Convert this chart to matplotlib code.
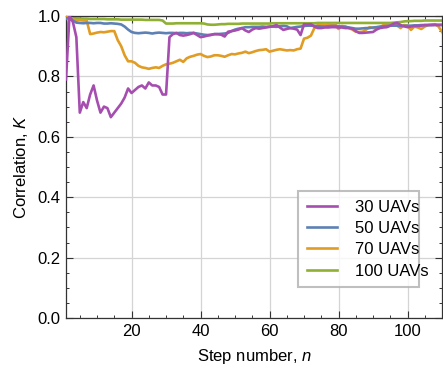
import numpy as np
import matplotlib
matplotlib.use("Agg")
import matplotlib.pyplot as plt
from matplotlib.ticker import MultipleLocator

plt.rcParams['font.family'] = ['Liberation Sans', 'DejaVu Sans']
plt.rcParams['mathtext.fontset'] = 'custom'
plt.rcParams['mathtext.it'] = 'Liberation Sans:italic'
plt.rcParams['mathtext.rm'] = 'Liberation Sans'

steps = list(range(1, 111))

k_30 = [0.79, 1.0, 0.98, 0.93, 0.68, 0.715, 0.695, 0.74, 0.77, 0.72,
        0.68, 0.70, 0.695, 0.665, 0.68, 0.695, 0.71, 0.73, 0.76, 0.745,
        0.755, 0.765, 0.77, 0.76, 0.78, 0.77, 0.77, 0.765, 0.74, 0.74,
        0.93, 0.94, 0.944, 0.937, 0.935, 0.937, 0.94, 0.944, 0.937, 0.93,
        0.932, 0.935, 0.937, 0.94, 0.94, 0.938, 0.932, 0.948, 0.95, 0.952,
        0.955, 0.96, 0.952, 0.947, 0.955, 0.96, 0.958, 0.96, 0.962, 0.964,
        0.966, 0.97, 0.962, 0.954, 0.957, 0.96, 0.958, 0.955, 0.937, 0.973,
        0.972, 0.973, 0.965, 0.96, 0.96, 0.962, 0.962, 0.963, 0.963, 0.962,
        0.962, 0.96, 0.96, 0.958, 0.95, 0.944, 0.944, 0.945, 0.946, 0.947,
        0.955, 0.96, 0.962, 0.963, 0.968, 0.975, 0.977, 0.97, 0.966, 0.963,
        0.965, 0.967, 0.967, 0.968, 0.97, 0.97, 0.97, 0.97, 0.97, 0.97]

k_50 = [0.99, 0.995, 0.985, 0.978, 0.977, 0.976, 0.977, 0.977, 0.976, 0.977,
        0.977, 0.975, 0.975, 0.976, 0.975, 0.974, 0.972, 0.965, 0.955, 0.947,
        0.944, 0.943, 0.944, 0.945, 0.944, 0.942, 0.944, 0.945, 0.944, 0.943,
        0.944, 0.944, 0.943, 0.944, 0.944, 0.943, 0.944, 0.944, 0.942, 0.94,
        0.938, 0.937, 0.938, 0.94, 0.94, 0.941, 0.942, 0.944, 0.95, 0.955,
        0.958, 0.96, 0.963, 0.963, 0.964, 0.964, 0.964, 0.965, 0.964, 0.965,
        0.965, 0.964, 0.966, 0.967, 0.966, 0.96, 0.962, 0.964, 0.965, 0.967,
        0.968, 0.968, 0.967, 0.966, 0.965, 0.965, 0.966, 0.967, 0.967, 0.966,
        0.965, 0.964, 0.962, 0.96, 0.958, 0.958, 0.959, 0.96, 0.96, 0.962,
        0.963, 0.965, 0.966, 0.967, 0.968, 0.968, 0.968, 0.967, 0.967, 0.968,
        0.968, 0.969, 0.969, 0.97, 0.97, 0.97, 0.97, 0.971, 0.971, 0.971]

k_70 = [1.0, 0.995, 0.99, 0.985, 0.987, 0.985, 0.985, 0.94, 0.942, 0.945,
        0.947, 0.946, 0.948, 0.95, 0.95, 0.92, 0.90, 0.87, 0.85, 0.85,
        0.845, 0.835, 0.83, 0.828, 0.825, 0.828, 0.83, 0.828, 0.835, 0.84,
        0.842, 0.845, 0.85, 0.855, 0.848, 0.86, 0.865, 0.868, 0.872, 0.874,
        0.868, 0.864, 0.866, 0.87, 0.87, 0.868, 0.865, 0.87, 0.874, 0.873,
        0.876, 0.878, 0.882, 0.877, 0.88, 0.884, 0.887, 0.888, 0.89, 0.882,
        0.885, 0.888, 0.89, 0.888, 0.886, 0.887, 0.886, 0.89, 0.892, 0.925,
        0.928, 0.935, 0.96, 0.97, 0.97, 0.972, 0.97, 0.972, 0.973, 0.957,
        0.967, 0.965, 0.96, 0.955, 0.948, 0.947, 0.948, 0.955, 0.963, 0.96,
        0.958, 0.962, 0.97, 0.97, 0.97, 0.972, 0.968, 0.96, 0.97, 0.968,
        0.954, 0.965, 0.962, 0.957, 0.965, 0.97, 0.972, 0.973, 0.965, 0.947]

k_100 = [0.93, 0.998, 0.993, 0.992, 0.992, 0.991, 0.991, 0.99, 0.99, 0.99,
         0.99, 0.99, 0.989, 0.989, 0.989, 0.989, 0.988, 0.988, 0.988, 0.988,
         0.988, 0.988, 0.988, 0.987, 0.987, 0.987, 0.987, 0.987, 0.985, 0.975,
         0.975, 0.975, 0.976, 0.976, 0.976, 0.976, 0.976, 0.976, 0.976, 0.976,
         0.975, 0.972, 0.971, 0.971, 0.972, 0.973, 0.973, 0.974, 0.974, 0.974,
         0.974, 0.975, 0.975, 0.975, 0.975, 0.975, 0.975, 0.975, 0.975, 0.975,
         0.976, 0.976, 0.976, 0.976, 0.976, 0.976, 0.976, 0.976, 0.976, 0.976,
         0.976, 0.976, 0.976, 0.977, 0.977, 0.977, 0.977, 0.977, 0.977, 0.977,
         0.977, 0.977, 0.977, 0.977, 0.977, 0.977, 0.977, 0.977, 0.977, 0.977,
         0.977, 0.977, 0.977, 0.977, 0.977, 0.978, 0.979, 0.98, 0.982, 0.983,
         0.983, 0.984, 0.984, 0.984, 0.985, 0.985, 0.985, 0.985, 0.985, 0.985]

labels = ["30 UAVs", "50 UAVs", "70 UAVs", "100 UAVs"]
colors = ["#A64EB0", "#5E81B5", "#E19C24", "#8FB032"]
series = [k_30, k_50, k_70, k_100]

fig = plt.figure(figsize=(4.43, 3.71), dpi=100)
ax = fig.add_axes([66 / 443, 1 - 318 / 371, 376 / 443, 302 / 371])

zorders = [5, 4, 3, 2]
for vals, lab, col, z in zip(series, labels, colors, zorders):
    ax.plot(steps, vals, color=col, lw=1.9, label=lab, zorder=z)

ax.set_xlim(1, 110)
ax.set_ylim(0, 1.0)
ax.xaxis.set_major_locator(MultipleLocator(20))
ax.xaxis.set_minor_locator(MultipleLocator(5))
ax.yaxis.set_major_locator(MultipleLocator(0.2))
ax.yaxis.set_minor_locator(MultipleLocator(0.05))
ax.set_yticks([0.0, 0.2, 0.4, 0.6, 0.8, 1.0])
ax.set_yticklabels(["0.0", "0.2", "0.4", "0.6", "0.8", "1.0"])
ax.grid(True, which='major', color='#d4d4d4', lw=0.9, zorder=0)
ax.tick_params(which='both', direction='in', top=True, right=True,
               labelsize=12, color='#333333')
ax.tick_params(which='major', length=5, width=0.8, pad=4)
ax.tick_params(which='minor', length=2.5, width=0.7)
for s in ax.spines.values():
    s.set_color('#333333')
    s.set_linewidth(0.9)

ax.set_xlabel("Step number, $n$", fontsize=12, labelpad=6)
ax.set_ylabel("Correlation, $K$", fontsize=12, labelpad=5)

leg = ax.legend(loc='lower left', bbox_to_anchor=(0.618, 0.103, 0.322, 0.317),
                mode='expand', fontsize=12, frameon=True, fancybox=False,
                edgecolor='#b0b0b0', handlelength=1.8, handletextpad=1.1,
                borderpad=0.5, labelspacing=0.38, borderaxespad=0)
leg.get_frame().set_linewidth(1.5)

fig.savefig("out.png", dpi=100)
